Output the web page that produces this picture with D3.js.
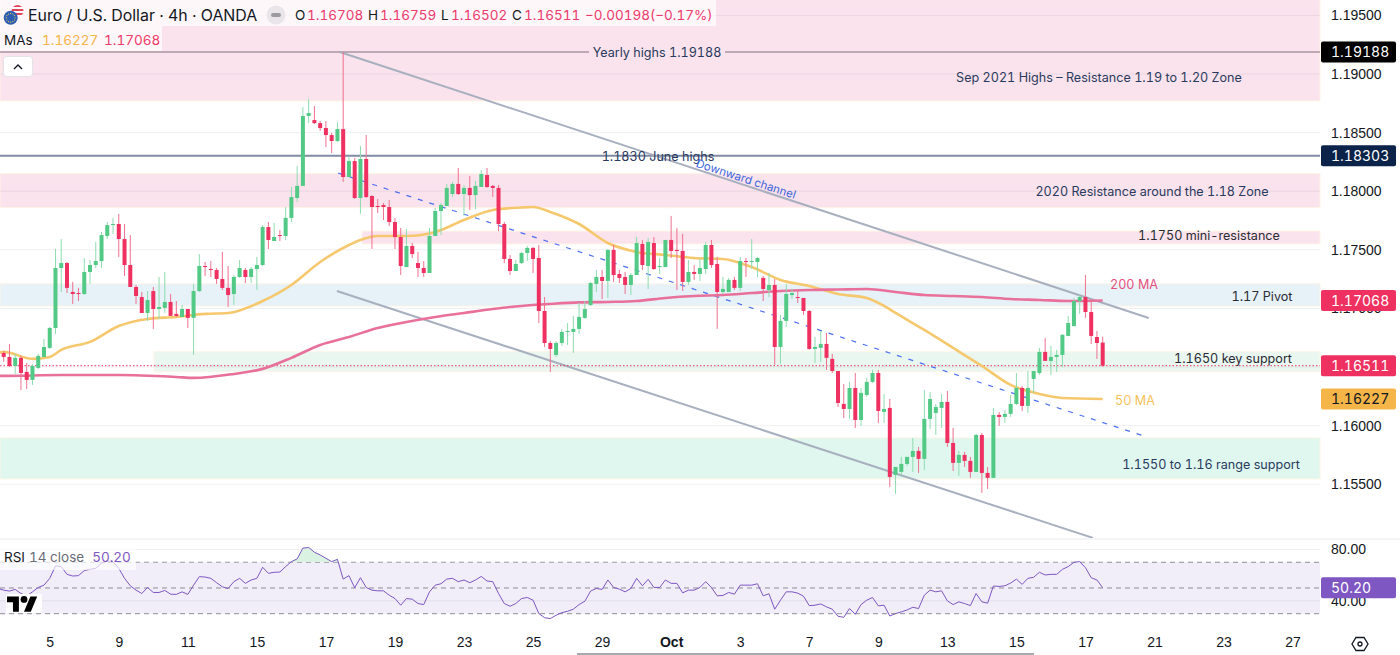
<!DOCTYPE html>
<html>
<head>
<meta charset="utf-8">
<script src="https://cdn.jsdelivr.net/npm/d3@7"></script>
<style>
  html, body { margin: 0; padding: 0; background: #fff; }
  svg { display: block; font-family: Inter, "Noto Sans", sans-serif; font-variant-numeric: tabular-nums; }
</style>
</head>
<body>
<svg id="chart" width="1400" height="655"></svg>
<script>
// candles, oldest first, 4h EURUSD
const opens = [
  1.16620,1.16586,1.16509,1.16578,1.16458,1.16390,1.16492,1.16586,1.16663,1.16833,
  1.17345,1.17387,1.17140,1.17131,1.17123,1.17311,1.17370,1.17404,1.17618,1.17711,
  1.17720,1.17592,1.17370,1.17183,1.17097,1.16961,1.17148,1.16995,1.17004,1.17055,
  1.16953,1.16927,1.16995,1.16919,1.17148,1.17362,1.17336,1.17328,1.17251,1.17175,
  1.17123,1.17268,1.17328,1.17268,1.17336,1.17370,1.17694,1.17575,1.17626,1.17618,
  1.17772,1.17942,1.18045,1.18642,1.18607,1.18581,1.18539,1.18479,1.18428,1.18530,
  1.18121,1.18257,1.17942,1.18275,1.17959,1.17874,1.17882,1.17865,1.17737,1.17609,
  1.17353,1.17533,1.17387,1.17345,1.17302,1.17618,1.17831,1.17874,1.17976,1.18062,
  1.17976,1.18028,1.17967,1.18036,1.18138,1.18045,1.18028,1.17720,1.17422,1.17319,
  1.17387,1.17473,1.17516,1.17430,1.16978,1.16705,1.16603,1.16705,1.16799,1.16799,
  1.16825,1.16919,1.17029,1.17209,1.17268,1.17234,1.17499,1.17294,1.17268,1.17200,
  1.17285,1.17550,1.17362,1.17558,1.17353,1.17353,1.17584,1.17499,1.17490,1.17226,
  1.17311,1.17294,1.17336,1.17541,1.17379,1.17140,1.17140,1.17243,1.17175,1.17404,
  1.17396,1.17396,1.17260,1.17157,1.17200,1.16671,1.16893,1.17114,1.17097,1.17089,
  1.16978,1.16654,1.16663,1.16697,1.16569,1.16466,1.16185,1.16142,1.16321,1.16048,
  1.16261,1.16373,1.16449,1.16117,1.16151,1.15579,1.15605,1.15673,1.15733,1.15784,
  1.15716,1.16057,1.16108,1.16151,1.16202,1.15852,1.15682,1.15750,1.15699,1.15605,
  1.15920,1.15596,1.15554,1.16091,1.16074,1.16100,1.16185,1.16321,1.16168,1.16398,
  1.16449,1.16629,1.16552,1.16586,1.16603,1.16765,1.16850,1.17063,1.17097,1.16969,
  1.16756,1.16708];
const highs = [
  1.16637,1.16697,1.16612,1.16595,1.16535,1.16526,1.16612,1.16740,1.16842,1.17507,
  1.17592,1.17396,1.17226,1.17175,1.17430,1.17413,1.17567,1.17652,1.17737,1.17772,
  1.17806,1.17720,1.17626,1.17200,1.17140,1.17148,1.17183,1.17268,1.17311,1.17123,
  1.17063,1.17029,1.16995,1.17209,1.17464,1.17396,1.17404,1.17345,1.17482,1.17362,
  1.17285,1.17413,1.17345,1.17353,1.17439,1.17711,1.17737,1.17729,1.17669,1.17865,
  1.18036,1.18215,1.18718,1.18787,1.18727,1.18599,1.18599,1.18497,1.18590,1.19188,
  1.18292,1.18283,1.18386,1.18479,1.17967,1.17933,1.17899,1.17925,1.17772,1.17686,
  1.17678,1.17558,1.17482,1.17404,1.17686,1.17857,1.17899,1.18062,1.18079,1.18198,
  1.18053,1.18130,1.18087,1.18181,1.18198,1.18053,1.18053,1.17737,1.17456,1.17413,
  1.17482,1.17533,1.17524,1.17541,1.17097,1.16722,1.16722,1.16825,1.16876,1.16936,
  1.17046,1.17063,1.17226,1.17328,1.17328,1.17507,1.17541,1.17328,1.17311,1.17302,
  1.17609,1.17584,1.17601,1.17609,1.17430,1.17584,1.17789,1.17686,1.17635,1.17413,
  1.17370,1.17422,1.17567,1.17584,1.17439,1.17268,1.17260,1.17268,1.17439,1.17430,
  1.17592,1.17439,1.17277,1.17302,1.17251,1.16944,1.17209,1.17166,1.17148,1.17089,
  1.16987,1.16756,1.16807,1.16790,1.16612,1.16466,1.16355,1.16373,1.16449,1.16321,
  1.16407,1.16475,1.16475,1.16270,1.16227,1.15647,1.15733,1.15733,1.15895,1.15818,
  1.16304,1.16287,1.16185,1.16270,1.16296,1.15980,1.15784,1.15776,1.15733,1.15929,
  1.15937,1.15647,1.16151,1.16117,1.16134,1.16261,1.16449,1.16338,1.16466,1.16466,
  1.16663,1.16748,1.16680,1.16646,1.16782,1.16936,1.17089,1.17114,1.17285,1.17072,
  1.16807,1.16759];
const lows = [
  1.16543,1.16500,1.16441,1.16304,1.16313,1.16347,1.16484,1.16586,1.16654,1.16782,
  1.17140,1.17131,1.17038,1.17063,1.17114,1.17209,1.17345,1.17345,1.17592,1.17635,
  1.17439,1.17277,1.17183,1.17038,1.16961,1.16893,1.16825,1.16910,1.16961,1.16936,
  1.16927,1.16927,1.16833,1.16603,1.17140,1.17277,1.17268,1.17209,1.17157,1.17012,
  1.17029,1.17260,1.17217,1.17217,1.17157,1.17362,1.17507,1.17575,1.17575,1.17584,
  1.17737,1.17908,1.18045,1.18581,1.18573,1.18514,1.18377,1.18326,1.18420,1.18079,
  1.18121,1.17933,1.17806,1.17942,1.17507,1.17814,1.17754,1.17703,1.17507,1.17285,
  1.17353,1.17430,1.17268,1.17268,1.17302,1.17618,1.17626,1.17874,1.17950,1.17967,
  1.17789,1.17840,1.17848,1.18036,1.18028,1.17950,1.17660,1.17387,1.17285,1.17319,
  1.17379,1.17404,1.17302,1.16876,1.16671,1.16458,1.16586,1.16680,1.16688,1.16620,
  1.16782,1.16910,1.17021,1.17140,1.17080,1.17089,1.17226,1.17217,1.17123,1.17114,
  1.17285,1.17328,1.17166,1.17328,1.17294,1.17353,1.17430,1.17157,1.17148,1.17200,
  1.17243,1.17234,1.17294,1.17345,1.16825,1.17123,1.17140,1.17157,1.17148,1.17268,
  1.17336,1.17268,1.17063,1.17097,1.16518,1.16526,1.16842,1.17080,1.17046,1.16944,
  1.16646,1.16535,1.16543,1.16475,1.16449,1.16159,1.16065,1.16057,1.15980,1.15997,
  1.16245,1.16364,1.16023,1.16023,1.15477,1.15417,1.15579,1.15656,1.15605,1.15596,
  1.15622,1.15972,1.15920,1.15980,1.15818,1.15613,1.15571,1.15647,1.15554,1.15605,
  1.15426,1.15460,1.15554,1.15997,1.16023,1.16074,1.16176,1.16125,1.16108,1.16279,
  1.16432,1.16552,1.16432,1.16458,1.16500,1.16765,1.16842,1.16953,1.16919,1.16697,
  1.16569,1.16502];
const closes = [
  1.16586,1.16509,1.16578,1.16449,1.16390,1.16509,1.16595,1.16671,1.16833,1.17345,
  1.17387,1.17175,1.17123,1.17123,1.17311,1.17370,1.17404,1.17626,1.17711,1.17720,
  1.17592,1.17370,1.17183,1.17106,1.16961,1.17072,1.16995,1.17012,1.17055,1.16936,
  1.16936,1.16995,1.16919,1.17148,1.17362,1.17353,1.17328,1.17251,1.17175,1.17114,
  1.17268,1.17345,1.17268,1.17336,1.17370,1.17694,1.17584,1.17609,1.17618,1.17772,
  1.17950,1.18045,1.18642,1.18667,1.18581,1.18539,1.18479,1.18428,1.18530,1.18121,
  1.18257,1.17942,1.18275,1.17950,1.17865,1.17865,1.17865,1.17737,1.17609,1.17362,
  1.17533,1.17464,1.17345,1.17302,1.17618,1.17831,1.17882,1.18028,1.18062,1.17976,
  1.18028,1.17967,1.18045,1.18147,1.18036,1.18028,1.17720,1.17422,1.17319,1.17379,
  1.17473,1.17516,1.17422,1.16978,1.16705,1.16654,1.16705,1.16799,1.16807,1.16825,
  1.16927,1.16995,1.17217,1.17268,1.17234,1.17499,1.17285,1.17260,1.17200,1.17285,
  1.17558,1.17370,1.17567,1.17336,1.17362,1.17584,1.17490,1.17490,1.17226,1.17311,
  1.17294,1.17345,1.17541,1.17370,1.17140,1.17166,1.17243,1.17175,1.17404,1.17396,
  1.17404,1.17430,1.17166,1.17200,1.16671,1.16893,1.17123,1.17131,1.17089,1.16978,
  1.16654,1.16671,1.16697,1.16578,1.16466,1.16193,1.16142,1.16321,1.16048,1.16279,
  1.16373,1.16449,1.16125,1.16142,1.15562,1.15647,1.15673,1.15733,1.15784,1.15716,
  1.16057,1.16227,1.16159,1.16202,1.15852,1.15682,1.15750,1.15699,1.15605,1.15920,
  1.15596,1.15554,1.16091,1.16074,1.16100,1.16185,1.16321,1.16168,1.16321,1.16466,
  1.16629,1.16552,1.16586,1.16603,1.16774,1.16876,1.17063,1.17097,1.16969,1.16765,
  1.16705,1.16511];

// moving averages, read at every few candles
const ma50Index = [-1,0,5,8,10,15,20,25,30,35,39,45,50,55,60,62,65,70,75,80,85,90,92,95,100,105,110,115,120,125,130,135,140,145,150,153,155,160,165,170,175,180,184,191];
const ma50Values = [1.16620,1.16629,1.16569,1.16586,1.16646,1.16714,1.16850,1.16910,1.16927,1.16953,1.16961,1.17063,1.17200,1.17396,1.17541,1.17584,1.17618,1.17618,1.17652,1.17754,1.17840,1.17861,1.17865,1.17823,1.17720,1.17558,1.17482,1.17456,1.17430,1.17422,1.17353,1.17243,1.17191,1.17123,1.17089,1.17021,1.16961,1.16816,1.16663,1.16509,1.16347,1.16270,1.16236,1.16227];
const ma200Index = [-1,0,10,20,30,33,40,45,50,55,60,65,70,75,80,85,90,95,100,105,110,115,120,125,130,135,140,145,150,155,160,165,170,175,180,185,191];
const ma200Values = [1.16424,1.16424,1.16432,1.16432,1.16415,1.16407,1.16441,1.16484,1.16578,1.16688,1.16756,1.16833,1.16884,1.16927,1.16961,1.16995,1.17021,1.17038,1.17051,1.17055,1.17063,1.17089,1.17106,1.17114,1.17131,1.17148,1.17157,1.17161,1.17165,1.17140,1.17114,1.17106,1.17097,1.17080,1.17072,1.17063,1.17068];

// RSI 14, one value per candle plus the one before the first candle
const rsiValues = [
  49.6,
  48.3,47.6,48.9,45.7,43.9,47.0,50.4,52.2,57.5,67.1,
  66.6,60.6,59.3,59.6,63.5,64.5,65.3,69.2,71.0,70.5,
  65.3,57.5,51.7,48.3,45.7,50.4,46.5,46.5,48.1,45.2,
  45.0,47.0,45.0,52.2,58.8,58.5,57.5,54.1,50.9,49.6,
  54.9,57.5,53.6,56.2,57.5,66.1,61.4,62.2,62.4,66.6,
  70.5,72.6,81.0,81.5,77.8,75.7,73.1,70.5,72.3,56.9,
  59.6,50.2,58.0,50.4,48.3,47.8,47.8,44.4,41.8,36.6,
  41.8,41.3,37.9,37.1,47.0,52.2,53.3,56.9,57.5,54.9,
  56.2,54.1,56.2,59.0,55.4,54.9,45.7,37.9,35.8,37.9,
  41.8,42.6,40.5,30.1,26.9,26.2,28.8,30.8,31.9,33.5,
  37.1,39.7,47.6,49.6,48.9,56.2,50.4,49.1,47.0,49.6,
  57.5,51.7,56.7,50.4,50.4,56.2,53.6,53.6,46.2,48.3,
  48.3,50.4,54.9,50.4,43.9,44.2,46.5,45.2,52.2,52.2,
  52.2,53.3,43.9,45.5,33.5,40.5,47.0,47.0,46.0,43.6,
  36.3,36.6,37.6,35.3,33.5,28.0,27.2,34.0,29.5,37.1,
  40.5,42.6,36.1,36.6,28.2,30.1,31.4,32.9,35.0,34.0,
  44.4,48.3,47.0,47.8,40.0,37.1,39.2,37.9,36.3,45.7,
  39.2,38.2,51.5,51.2,51.7,53.8,56.9,52.8,57.5,58.3,
  62.2,60.1,60.6,60.6,64.5,66.6,70.0,70.5,65.8,58.0,
  56.2,50.2];

// axes; the 1.16500 label is hidden behind the last price tag, so it gets a grid line only
const gridTicks = [1.195, 1.19, 1.185, 1.18, 1.175, 1.17, 1.165, 1.16, 1.155];
const priceTicks = [1.195, 1.19, 1.185, 1.18, 1.175, 1.17, 1.16, 1.155];
const rsiTicks = [80, 40];
const rsiLevels = [70, 50, 30];
const timeTickIndex = [8,20,32,44,56,68,80,92,104,116,128,140,152,164,176,188,200,212,224];
const timeTickLabels = ["5","9","11","15","17","19","23","25","29","Oct","3","7","9","13","15","17","21","23","27"];

// shaded zones as [top price, bottom price]
const sepZone = [1.2, 1.1877];
const resist18Zone = [1.1815, 1.1786];
const miniZone = [1.1766, 1.1755];
const pivotZone = [1.1721, 1.1702];
const keyZone = [1.1663, 1.1646];
const rangeZone = [1.15895, 1.15545];

// drawn levels and trendlines as [candle index, price]
const yearlyHigh = 1.19188;
const juneHigh = 1.18303;
const lastClose = 1.16511;
const channelUpper = [[58.4, 1.19188], [199.0, 1.16918]];
const channelLower = [[57.9, 1.17148], [189.3, 1.15042]];
const channelMid = [[58.1, 1.18155], [198.7, 1.15903]];

const W = 1400, H = 655, plotR = 1320, paneB = 538;
const GREEN = "#52c985", GREEN_WICK = "#8edcb0", RED = "#ee3160", RED_WICK = "#f0708f";
const PINK = "#ec3a6c", ORANGE = "#f5b548", PURPLE = "#7e57c2", INK = "#131722", NAVY = "#2a3a5e";

const x = d3.scaleLinear().domain([0, 191]).range([3.7, 1102.7]);
const y = d3.scaleLinear().domain([1.195, 1.155]).range([15.4, 484.2]);
const yRsi = d3.scaleLinear().domain([80, 30]).range([549.4, 613.7]);

const svg = d3.select("#chart");
const defs = svg.append("defs");
defs.append("clipPath").attr("id", "pricePane").append("rect")
  .attr("width", plotR).attr("height", paneB);
defs.append("clipPath").attr("id", "above70").append("rect")
  .attr("width", plotR).attr("y", 540).attr("height", yRsi(70) - 540);
defs.append("clipPath").attr("id", "flagUs").append("circle")
  .attr("cx", 17.5).attr("cy", 11).attr("r", 6);

// zones
const zoneRows = [
  [sepZone, 0, "#fae3ec"], [resist18Zone, 0, "#fae3ec"], [miniZone, 362, "#fae3ec"],
  [pivotZone, 0, "#e6f1f8"], [keyZone, 154, "#e9f7f0"], [rangeZone, 0, "#dff7ee"],
];
svg.append("g").selectAll("rect").data(zoneRows).join("rect")
  .attr("x", (d) => d[1])
  .attr("y", (d) => y(d[0][0]))
  .attr("width", (d) => plotR - d[1])
  .attr("height", (d) => y(d[0][1]) - y(d[0][0]))
  .attr("fill", (d) => d[2])
  .attr("stroke", "#fdf4e6").attr("stroke-width", 1);

// grid
svg.append("g").selectAll("line").data(gridTicks).join("line")
  .attr("x1", 0).attr("x2", plotR)
  .attr("y1", (d) => y(d)).attr("y2", (d) => y(d))
  .attr("stroke", "#70708a").attr("stroke-opacity", 0.1);

// horizontal levels, broken where their label sits
const levelRows = [[yearlyHigh, 589, 725, "#bda9b4"], [juneHigh, 597, 597, "#808ca3"]];
const levels = svg.append("g").attr("stroke-width", 2);
levelRows.forEach((d) => {
  levels.append("line").attr("x1", 0).attr("x2", d[1])
    .attr("y1", y(d[0])).attr("y2", y(d[0])).attr("stroke", d[3]);
  levels.append("line").attr("x1", d[2]).attr("x2", plotR)
    .attr("y1", y(d[0])).attr("y2", y(d[0])).attr("stroke", d[3]);
});

// channel
const trend = d3.line().x((d) => x(d[0])).y((d) => y(d[1]));
const channel = svg.append("g").attr("clip-path", "url(#pricePane)").attr("fill", "none");
channel.append("path").attr("d", trend(channelUpper)).attr("stroke", "#a8afbf").attr("stroke-width", 2);
channel.append("path").attr("d", trend(channelLower)).attr("stroke", "#a8afbf").attr("stroke-width", 2);
channel.append("path").attr("d", trend(channelMid)).attr("stroke", "#4b6ff0")
  .attr("stroke-width", 1.2).attr("stroke-dasharray", "5,7");

// last price
svg.append("line").attr("x1", 0).attr("x2", plotR)
  .attr("y1", y(lastClose)).attr("y2", y(lastClose))
  .attr("stroke", RED).attr("stroke-width", 1).attr("stroke-dasharray", "1.5,2");

// moving averages
const ma = d3.line().x((d) => x(d[0])).y((d) => y(d[1])).curve(d3.curveMonotoneX);
svg.append("path").attr("d", ma(d3.zip(ma50Index, ma50Values)))
  .attr("fill", "none").attr("stroke", "#f6c86e").attr("stroke-width", 2.6);
svg.append("path").attr("d", ma(d3.zip(ma200Index, ma200Values)))
  .attr("fill", "none").attr("stroke", "#e8709a").attr("stroke-width", 2.6);

// candles
const candles = d3.range(closes.length);
const candleG = svg.append("g");
candleG.selectAll("line").data(candles).join("line")
  .attr("x1", (i) => x(i)).attr("x2", (i) => x(i))
  .attr("y1", (i) => y(highs[i])).attr("y2", (i) => y(lows[i]))
  .attr("stroke", (i) => (closes[i] >= opens[i] ? GREEN_WICK : RED_WICK))
  .attr("stroke-width", 1);
candleG.selectAll("rect").data(candles).join("rect")
  .attr("x", (i) => x(i) - 2)
  .attr("width", 4)
  .attr("y", (i) => y(Math.max(opens[i], closes[i])))
  .attr("height", (i) => Math.max(1, Math.abs(y(opens[i]) - y(closes[i]))))
  .attr("fill", (i) => (closes[i] >= opens[i] ? GREEN : RED));

// notes on the chart
const noteRows = [
  ["Yearly highs 1.19188", 657, 52, NAVY],
  ["1.1830 June highs", 658, 156, NAVY],
  ["Sep 2021 Highs – Resistance 1.19 to 1.20 Zone", 1099, 77, NAVY],
  ["2020 Resistance around the 1.18 Zone", 1152, 191, NAVY],
  ["1.1750 mini-resistance", 1209, 235, "#2b2b33"],
  ["200 MA", 1134, 284, "#e4517f"],
  ["1.17 Pivot", 1262, 296, "#2b2b33"],
  ["1.1650 key support", 1233, 358, "#2b2b33"],
  ["50 MA", 1135, 400, "#f5c25c"],
  ["1.1550 to 1.16 range support", 1211, 464, NAVY],
];
svg.append("g").selectAll("text").data(noteRows).join("text")
  .attr("x", (d) => d[1]).attr("y", (d) => d[2])
  .attr("text-anchor", "middle").attr("dominant-baseline", "central")
  .attr("font-size", 12.6).attr("fill", (d) => d[3])
  .text((d) => d[0]);
svg.append("text").attr("transform", "translate(746,179) rotate(18)")
  .attr("text-anchor", "middle").attr("dominant-baseline", "central")
  .attr("font-size", 11.5).attr("fill", "#3f66dc").text("Downward channel");

// header strip
svg.append("rect").attr("width", 716).attr("height", 26).attr("fill", "#fff").attr("fill-opacity", 0.72);
svg.append("rect").attr("y", 26).attr("width", 162).attr("height", 25).attr("fill", "#fff").attr("fill-opacity", 0.72);
svg.append("g").attr("clip-path", "url(#flagUs)").selectAll("rect").data(d3.range(6)).join("rect")
  .attr("x", 11).attr("y", (d) => 5 + d * 2).attr("width", 13).attr("height", 2)
  .attr("fill", (d) => (d % 2 ? "#fff" : "#e0455a"));
svg.append("circle").attr("cx", 10.7).attr("cy", 17.8).attr("r", 7).attr("fill", "#2f5fb3");
svg.append("g").selectAll("circle").data(d3.range(12)).join("circle")
  .attr("cx", (d) => 10.7 + 4.4 * Math.cos((d * Math.PI) / 6))
  .attr("cy", (d) => 17.8 + 4.4 * Math.sin((d * Math.PI) / 6))
  .attr("r", 0.6).attr("fill", "#f5d34a");
svg.append("text").attr("x", 28).attr("y", 21).attr("font-size", 15.9).attr("fill", INK)
  .text("Euro / U.S. Dollar · 4h · OANDA");
svg.append("circle").attr("cx", 276).attr("cy", 15).attr("r", 9.5).attr("fill", "#e9e5e8");
svg.append("rect").attr("x", 271).attr("y", 13).attr("width", 10).attr("height", 4).attr("rx", 2).attr("fill", "#9a9a9f");
const ohlcRows = [
  ["O", 295, INK], ["1.16708", 307, PINK], ["H", 368, INK], ["1.16759", 380, PINK],
  ["L", 441, INK], ["1.16502", 451, PINK], ["C", 512, INK], ["1.16511", 524, PINK],
  ["−0.00198", 585, PINK], ["(−0.17%)", 650, PINK],
  ["MAs", 4, INK], ["1.16227", 42, ORANGE], ["1.17068", 104, PINK],
];
svg.append("g").selectAll("text").data(ohlcRows).join("text")
  .attr("x", (d) => d[1]).attr("y", (d, i) => (i > 9 ? 45 : 20))
  .attr("font-size", 13.5).attr("fill", (d) => d[2]).text((d) => d[0]);
svg.append("rect").attr("x", 3.5).attr("y", 56.5).attr("width", 29).attr("height", 20).attr("rx", 3)
  .attr("fill", "#fff").attr("stroke", "#e3e3e8");
svg.append("path").attr("d", "M14 69l4-4 4 4").attr("fill", "none").attr("stroke", INK).attr("stroke-width", 1.4);

// RSI pane
svg.append("line").attr("x1", 0).attr("x2", W).attr("y1", 539).attr("y2", 539).attr("stroke", "#e9eaee");
svg.append("rect").attr("y", yRsi(70)).attr("width", plotR).attr("height", yRsi(30) - yRsi(70)).attr("fill", "#f1edf9");
svg.append("g").selectAll("line").data(rsiTicks).join("line")
  .attr("x1", 0).attr("x2", plotR)
  .attr("y1", (d) => yRsi(d)).attr("y2", (d) => yRsi(d))
  .attr("stroke", "#70708a").attr("stroke-opacity", 0.12);
svg.append("g").selectAll("line").data(rsiLevels).join("line")
  .attr("x1", 0).attr("x2", plotR)
  .attr("y1", (d) => yRsi(d)).attr("y2", (d) => yRsi(d))
  .attr("stroke", "#8f8f98").attr("stroke-dasharray", "5,4");
const rsiX = (i) => x(i - 1);
svg.append("path")
  .attr("clip-path", "url(#above70)")
  .attr("d", d3.area().x((d, i) => rsiX(i)).y0(yRsi(70)).y1((d) => yRsi(d))(rsiValues))
  .attr("fill", "#d9f2e2");
svg.append("path")
  .attr("d", d3.line().x((d, i) => rsiX(i)).y((d) => yRsi(d))(rsiValues))
  .attr("fill", "none").attr("stroke", PURPLE).attr("stroke-width", 1);
svg.append("rect").attr("y", 549).attr("width", 136).attr("height", 21).attr("fill", "#fff").attr("fill-opacity", 0.65);
const rsiTitle = svg.append("text").attr("x", 4).attr("y", 562).attr("font-size", 13.5);
rsiTitle.append("tspan").attr("fill", INK).text("RSI");
rsiTitle.append("tspan").attr("fill", "#6a6d78").attr("dx", 4).text("14 close");
rsiTitle.append("tspan").attr("fill", PURPLE).attr("dx", 8).text("50.20");

// TradingView mark
svg.append("rect").attr("x", 6).attr("y", 594).attr("width", 36).attr("height", 19).attr("fill", "#fff");
const mark = svg.append("g").attr("transform", "translate(7,593) scale(0.85)").attr("fill", "#000");
mark.append("path").attr("d", "M14 22H7V11H0V4h14v18zM28 22h-8l7.5-18h8L28 22z");
mark.append("circle").attr("cx", 20).attr("cy", 7.5).attr("r", 4);

// right axis
const priceAxis = d3.axisRight(y).tickValues(priceTicks).tickFormat(d3.format(".5f")).tickSize(0).tickPadding(0);
const priceAxisG = svg.append("g").attr("transform", "translate(1331,0)").call(priceAxis);
priceAxisG.select(".domain").remove();
priceAxisG.selectAll("text").attr("font-family", "inherit").attr("font-size", 14).attr("fill", INK);

const rsiAxis = d3.axisRight(yRsi).tickValues(rsiTicks).tickFormat(d3.format(".2f")).tickSize(0).tickPadding(0);
const rsiAxisG = svg.append("g").attr("transform", "translate(1331,0)").call(rsiAxis);
rsiAxisG.select(".domain").remove();
rsiAxisG.selectAll("text").attr("font-family", "inherit").attr("font-size", 14).attr("fill", INK);

// price tags
const tagRows = [
  [y(yearlyHigh), "1.19188", "#000", "#fff"],
  [y(juneHigh), "1.18303", "#0b2349", "#fff"],
  [y(1.17068), "1.17068", "#ee3160", "#fff"],
  [y(lastClose), "1.16511", "#ee3160", "#fff"],
  [y(1.16227), "1.16227", "#f5b548", "#131722"],
  [yRsi(50.2), "50.20", PURPLE, "#fff"],
];
const tags = svg.append("g").selectAll("g").data(tagRows).join("g")
  .attr("transform", (d) => `translate(1321,${d[0]})`);
tags.append("rect").attr("y", -10.5).attr("width", 75).attr("height", 21).attr("rx", 2).attr("fill", (d) => d[2]);
tags.append("text").attr("x", 10).attr("dominant-baseline", "central").attr("font-size", 14)
  .attr("fill", (d) => d[3]).text((d) => d[1]);

// time axis
const timeAxis = d3.axisBottom(x).tickValues(timeTickIndex)
  .tickFormat((d, i) => timeTickLabels[i]).tickSize(0).tickPadding(0);
const timeAxisG = svg.append("g").attr("transform", "translate(0,637)").call(timeAxis);
timeAxisG.select(".domain").remove();
timeAxisG.selectAll("text").attr("font-family", "inherit").attr("font-size", 14).attr("fill", INK)
  .attr("font-weight", (d, i) => (timeTickLabels[i] === "Oct" ? 700 : 400));
svg.append("line").attr("x1", 577).attr("x2", 1034).attr("y1", 654).attr("y2", 654).attr("stroke", "#8a8d96").attr("stroke-width", 1.5);

// settings hexagon
svg.append("path").attr("d", "M1356 637.5h8l4 6.5-4 6.5h-8l-4-6.5z").attr("fill", "none").attr("stroke", INK).attr("stroke-width", 1.3);
svg.append("circle").attr("cx", 1360).attr("cy", 644).attr("r", 2).attr("fill", "none").attr("stroke", INK).attr("stroke-width", 1.3);
</script>
</body>
</html>
